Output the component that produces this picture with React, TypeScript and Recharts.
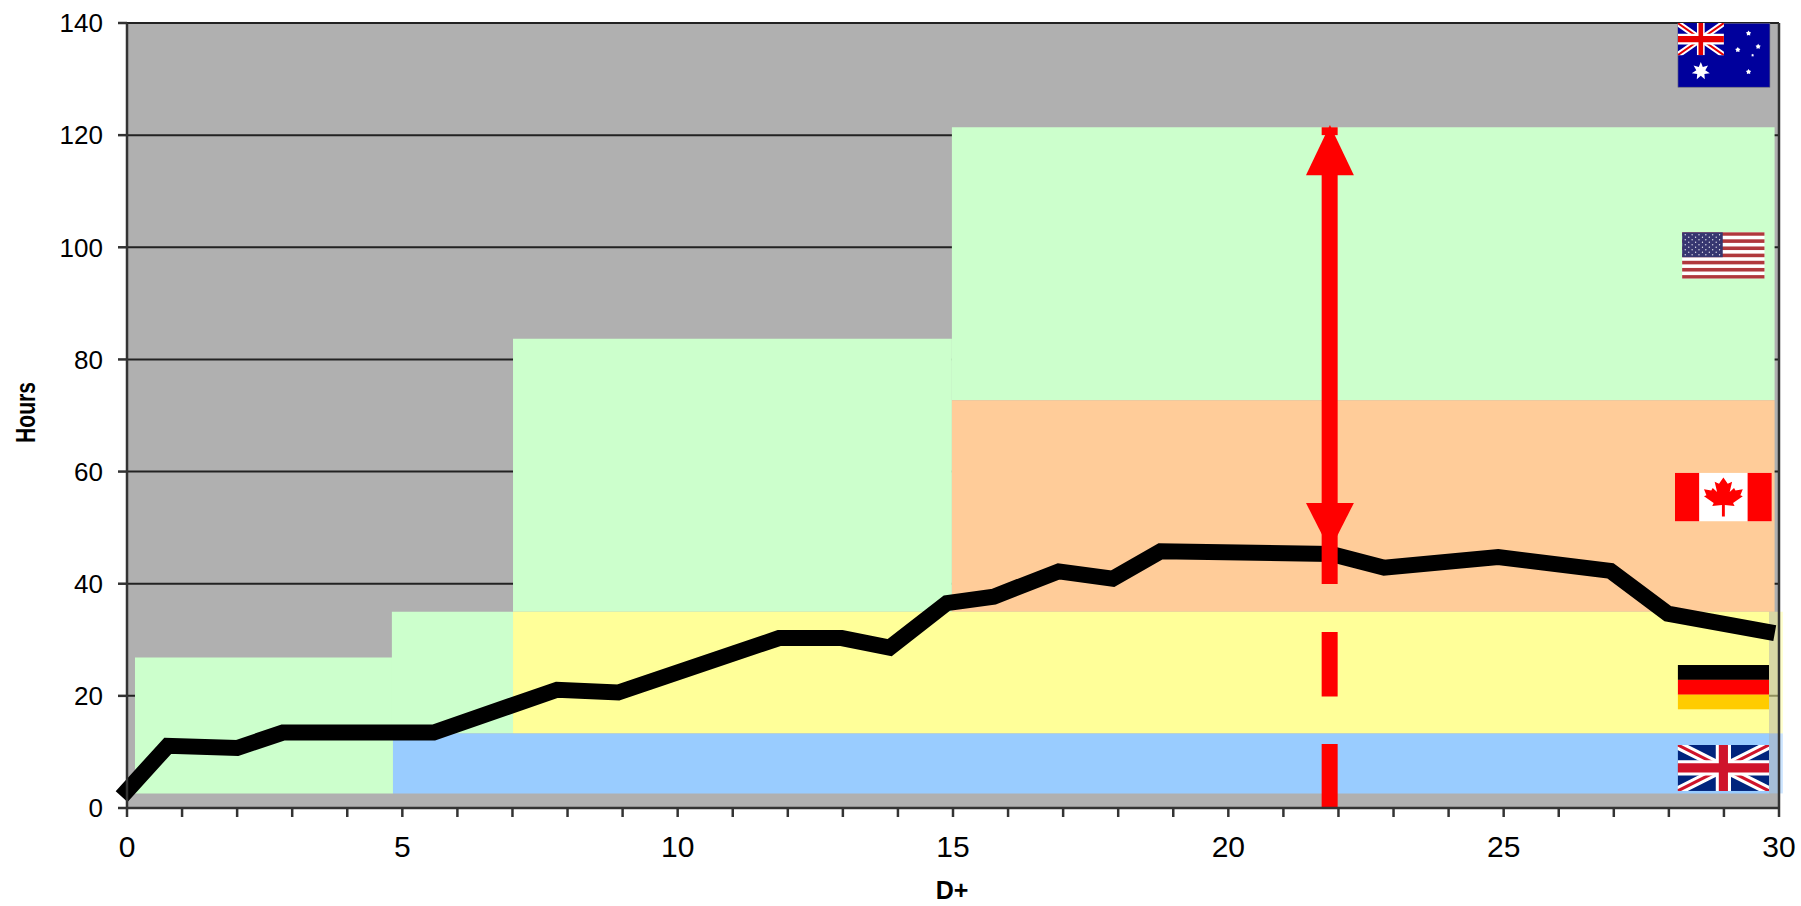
import { ComposedChart, CartesianGrid, Line, ReferenceArea, ReferenceLine, XAxis, YAxis } from 'recharts';

const days = [0, 0.74, 2.0, 2.83, 5.57, 7.81, 8.92, 11.84, 12.98, 13.85, 14.89, 15.74, 16.92, 17.9, 18.77, 21.87, 22.83, 24.9, 26.94, 27.98, 29.78];
const hours = [3.1, 11.1, 10.7, 13.45, 13.45, 21.1, 20.6, 30.3, 30.3, 28.6, 36.55, 37.7, 42.2, 40.9, 45.8, 45.3, 42.85, 44.75, 42.3, 34.65, 31.45];

const dayTicks = [0, 1, 2, 3, 4, 5, 6, 7, 8, 9, 10, 11, 12, 13, 14, 15, 16, 17, 18, 19, 20, 21, 22, 23, 24, 25, 26, 27, 28, 29, 30];
const hourTicks = [0, 20, 40, 60, 80, 100, 120, 140];

// coloured regions behind the line
const bandStart = [0.145, 4.81, 7.01, 14.98, 14.98, 7.01, 4.83];
const bandEnd = [4.83, 7.01, 14.98, 29.92, 29.92, 29.82, 29.82];
const bandLow = [2.6, 13.3, 35, 72.7, 35, 13.3, 2.6];
const bandHigh = [26.85, 35, 83.7, 121.4, 72.7, 35, 13.3];
const bandColors = ['#CCFFCC', '#CCFFCC', '#CCFFCC', '#CCFFCC', '#FFCC99', '#FFFF99', '#99CCFF'];

// the yellow and blue boxes run on past the right axis, see-through
const fadeStart = 29.82;
const fadeEnd = 30.07;
const fadeLow = [13.3, 2.6];
const fadeHigh = [35, 13.3];
const fadeColors = ['#FFFF99', '#99CCFF'];

// red double arrow
const arrowDay = 21.84;
const arrowLow = [39.95, 19.9, 0, 120];
const arrowHigh = [117.5, 31.4, 11.4, 121.4];

const chartData = days.map((day, i) => ({ day, hours: hours[i] }));

const star = (cx: number, cy: number, r: number, n: number, inner = 0.6) => {
  const pts: string[] = [];
  for (let i = 0; i < n * 2; i++) {
    const a = (Math.PI * i) / n - Math.PI / 2;
    const rr = i % 2 === 0 ? r : r * inner;
    pts.push(`${cx + rr * Math.cos(a)},${cy + rr * Math.sin(a)}`);
  }
  return pts.join(' ');
};

function FlagBox({ x, y, width, height, w, h, children }: any) {
  return (
    <svg x={x} y={y} width={width} height={height} viewBox={`0 0 ${w} ${h}`} preserveAspectRatio="none">
      {children}
    </svg>
  );
}

function UnionJack({ blue, red }: { blue: string; red: string }) {
  return (
    <g>
      <rect width="60" height="30" fill={blue} />
      <path d="M0,0 L60,30 M60,0 L0,30" stroke="#fff" strokeWidth="6" />
      <path d="M0,0 L60,30 M60,0 L0,30" stroke={red} strokeWidth="2" />
      <path d="M30,0 V30 M0,15 H60" stroke="#fff" strokeWidth="10" />
      <path d="M30,0 V30 M0,15 H60" stroke={red} strokeWidth="6" />
    </g>
  );
}

function AustraliaFlag(props: any) {
  const southernCross = [
    [0.766, 0.16, 3.6],
    [0.87, 0.365, 3.6],
    [0.65, 0.416, 3.6],
    [0.81, 0.5, 2],
    [0.766, 0.756, 3.6],
  ];
  return (
    <FlagBox {...props} w={120} h={85}>
      <rect width="120" height="85" fill="#00009C" stroke="#777" strokeWidth="1.5" />
      <svg width="60" height="42.5" viewBox="0 0 60 30" preserveAspectRatio="none">
        <UnionJack blue="#00009C" red="#E60000" />
      </svg>
      <polygon points={star(30, 63.5, 12, 7, 0.5)} fill="#fff" />
      {southernCross.map(([fx, fy, r]) => (
        <polygon key={fx + '-' + fy} points={star(fx * 120, fy * 85, r, 5)} fill="#fff" />
      ))}
    </FlagBox>
  );
}

function UsFlag(props: any) {
  const stripes = Array.from({ length: 13 }, (_, i) => i);
  const rows = Array.from({ length: 9 }, (_, i) => i);
  return (
    <FlagBox {...props} w={130} h={65}>
      <rect width="130" height="65" fill="#fff" />
      {stripes.filter((i) => i % 2 === 0).map((i) => (
        <rect key={i} y={i * 5} width="130" height="5" fill="#B0383C" />
      ))}
      <rect width="64" height="35" fill="#363670" />
      {rows.map((r) =>
        Array.from({ length: r % 2 === 0 ? 6 : 5 }, (_, c) => (
          <circle key={r + '-' + c} cx={(r % 2 === 0 ? 5 : 10.5) + c * 10.8} cy={3.5 + r * 3.5} r="1.05" fill="#E8E8F0" />
        )),
      )}
    </FlagBox>
  );
}

function CanadaFlag(props: any) {
  const half = [
    [0, 0], [9, 16], [18, 11], [13, 37], [22, 27], [25, 33], [40, 30], [35, 45],
    [40, 48], [20, 65], [23, 73], [3, 70], [3, 100],
  ];
  const side = half.map(([dx, dy]) => `${100 + dx},${10 + dy * 0.8}`);
  const other = [...half].reverse().map(([dx, dy]) => `${100 - dx},${10 + dy * 0.8}`);
  return (
    <FlagBox {...props} w={200} h={100}>
      <rect width="200" height="100" fill="#fff" />
      <rect width="50" height="100" fill="#FF0000" />
      <rect x="150" width="50" height="100" fill="#FF0000" />
      <polygon points={[...side, ...other].join(' ')} fill="#FF0000" />
    </FlagBox>
  );
}

function GermanyFlag(props: any) {
  return (
    <FlagBox {...props} w={3} h={3}>
      <rect width="3" height="1" fill="#000" />
      <rect y="1" width="3" height="1" fill="#FF0000" />
      <rect y="2" width="3" height="1" fill="#FFCC00" />
    </FlagBox>
  );
}

function UkFlag(props: any) {
  return (
    <FlagBox {...props} w={60} h={30}>
      <UnionJack blue="#00247D" red="#CF142B" />
    </FlagBox>
  );
}

function ArrowHead({ x, y, width, height, up }: any) {
  const points = up
    ? `${x + width / 2},${y} ${x + width},${y + height} ${x},${y + height}`
    : `${x},${y} ${x + width},${y} ${x + width / 2},${y + height}`;
  return <polygon points={points} fill="#FF0000" />;
}

const sans = '"Liberation Sans", Arial, sans-serif';

export default function App() {
  return (
    <div style={{ position: 'absolute', left: 0, top: 0, width: 1801, height: 906, background: '#fff' }}>
      <ComposedChart
        width={1801}
        height={906}
        data={chartData}
        margin={{ top: 23, right: 22, bottom: 0, left: 0 }}
      >
        <CartesianGrid vertical={false} fill="#B0B0B0" fillOpacity={1} stroke="#222" strokeWidth={2} />
        {bandColors.map((color, i) => (
          <ReferenceArea
            key={i}
            x1={bandStart[i]}
            x2={bandEnd[i]}
            y1={bandLow[i]}
            y2={bandHigh[i]}
            fill={color}
            fillOpacity={1}
            stroke="none"
            ifOverflow="visible"
          />
        ))}
        <XAxis
          dataKey="day"
          type="number"
          domain={[0, 30]}
          ticks={dayTicks}
          interval={0}
          tickFormatter={(d: number) => (d % 5 === 0 ? String(d) : '')}
          tick={{ fontSize: 30, fill: '#000', fontFamily: sans }}
          tickSize={9}
          tickMargin={19}
          height={98}
          stroke="#333"
          strokeWidth={2.5}
          label={{
            content: () => (
              <text x={952} y={899} textAnchor="middle" fontSize={25} fontWeight="bold" fontFamily={sans} fill="#000">
                D+
              </text>
            ),
          }}
        />
        <YAxis
          type="number"
          domain={[0, 140]}
          ticks={hourTicks}
          interval={0}
          tick={{ fontSize: 26, fill: '#000', fontFamily: sans }}
          tickSize={9}
          tickMargin={15}
          width={127}
          stroke="#333"
          strokeWidth={2.5}
          label={{
            content: () => (
              <text
                transform="translate(35 412.5) rotate(-90)"
                textAnchor="middle"
                fontSize={28}
                fontWeight="bold"
                fontFamily={sans}
                textLength={61}
                lengthAdjust="spacingAndGlyphs"
                fill="#000"
              >
                Hours
              </text>
            ),
          }}
        />
        <ReferenceLine x={30} stroke="#333" strokeWidth={2.5} />
        <Line
          dataKey="hours"
          stroke="#000"
          strokeWidth={16}
          strokeLinejoin="miter"
          strokeLinecap="square"
          dot={false}
          activeDot={false}
          isAnimationActive={false}
        />
        <ReferenceArea x1={28.16} x2={29.84} y1={128.5} y2={140} shape={<AustraliaFlag />} ifOverflow="visible" />
        <ReferenceArea x1={28.24} x2={29.74} y1={94.4} y2={102.7} shape={<UsFlag />} ifOverflow="visible" />
        <ReferenceArea x1={28.11} x2={29.87} y1={51.1} y2={59.8} shape={<CanadaFlag />} ifOverflow="visible" />
        <ReferenceArea x1={28.16} x2={29.82} y1={17.55} y2={25.5} shape={<GermanyFlag />} ifOverflow="visible" />
        <ReferenceArea x1={28.16} x2={29.82} y1={3.04} y2={11.25} shape={<UkFlag />} ifOverflow="visible" />
        {fadeColors.map((color, i) => (
          <ReferenceArea
            key={color}
            x1={fadeStart}
            x2={fadeEnd}
            y1={fadeLow[i]}
            y2={fadeHigh[i]}
            fill={color}
            fillOpacity={0.5}
            stroke="none"
            ifOverflow="visible"
          />
        ))}
        {arrowLow.map((low, i) => (
          <ReferenceLine
            key={i}
            segment={[
              { x: arrowDay, y: low },
              { x: arrowDay, y: arrowHigh[i] },
            ]}
            stroke="#FF0000"
            strokeWidth={16}
            ifOverflow="visible"
          />
        ))}
        <ReferenceArea x1={21.41} x2={22.28} y1={112.86} y2={121.8} shape={<ArrowHead up />} ifOverflow="visible" />
        <ReferenceArea x1={21.41} x2={22.28} y1={45.95} y2={54.4} shape={<ArrowHead />} ifOverflow="visible" />
      </ComposedChart>
    </div>
  );
}
